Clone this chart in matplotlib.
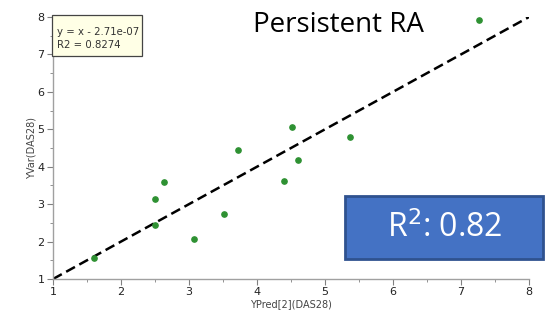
import matplotlib
matplotlib.use("Agg")
import matplotlib.pyplot as plt
from matplotlib.ticker import MultipleLocator
from matplotlib.patches import Rectangle

x_pred = [1.60, 2.50, 2.50, 2.63, 3.08, 3.51, 3.72, 4.40, 4.51, 4.60, 5.37, 7.26]
y_var = [1.56, 3.15, 2.43, 3.60, 2.07, 2.73, 4.45, 3.63, 5.07, 4.19, 4.79, 7.92]
fit_x = [1, 8]
fit_y = [1, 8]
fit_lines = ["y = x - 2.71e-07", "R2 = 0.8274"]
title = "Persistent RA"
r2_label = "R$^2$: 0.82"
xlabel = "YPred[2](DAS28)"
ylabel = "YVar(DAS28)"

fig = plt.figure(figsize=(5.5, 3.19), dpi=100)
ax = fig.add_axes([0.0964, 0.1254, 0.8654, 0.8213])
ax.plot(fit_x, fit_y, ls=(0, (4, 2)), color="black", lw=1.8, zorder=2)
ax.plot(x_pred, y_var, "o", color="#2e9132", ms=3.8, zorder=3)
ax.set_xlim(1, 8)
ax.set_ylim(1, 8)
ax.xaxis.set_major_locator(MultipleLocator(1))
ax.yaxis.set_major_locator(MultipleLocator(1))
ax.xaxis.set_minor_locator(MultipleLocator(0.5))
ax.yaxis.set_minor_locator(MultipleLocator(0.5))
for s in ["top", "right"]:
    ax.spines[s].set_visible(False)
for s in ["left", "bottom"]:
    ax.spines[s].set_color("#a0a0a0")
    ax.spines[s].set_linewidth(1.0)
ax.tick_params(which="major", length=4, color="#808080", labelsize=8, labelcolor="#222222", pad=2)
ax.tick_params(which="minor", length=2, color="#808080")
ax.set_xlabel(xlabel, fontsize=7, color="#444444", labelpad=1)
ax.set_ylabel(ylabel, fontsize=7, color="#444444", labelpad=1)

# fit annotation box
fig.patches.append(Rectangle((0.0945, 0.826), 0.164, 0.127, transform=fig.transFigure,
                             fc="#ffffe6", ec="#444444", lw=0.9, zorder=5))
fig.text(0.1036, 0.900, fit_lines[0], ha="left", va="center", fontsize=7.3, color="#333333", zorder=6)
fig.text(0.1036, 0.858, fit_lines[1], ha="left", va="center", fontsize=7.3, color="#333333", zorder=6)

fig.text(0.616, 0.922, title, ha="center", va="center", fontsize=20, family="Open Sans", color="black")

# R2 box
fig.patches.append(Rectangle((0.627, 0.187), 0.360, 0.200, transform=fig.transFigure,
                             fc="#4472c4", ec="#2f528f", lw=2, zorder=5))
fig.text(0.808, 0.285, r2_label, ha="center", va="center", fontsize=23, family="Open Sans",
         color="white", zorder=6)

fig.savefig("out.png", dpi=100)
